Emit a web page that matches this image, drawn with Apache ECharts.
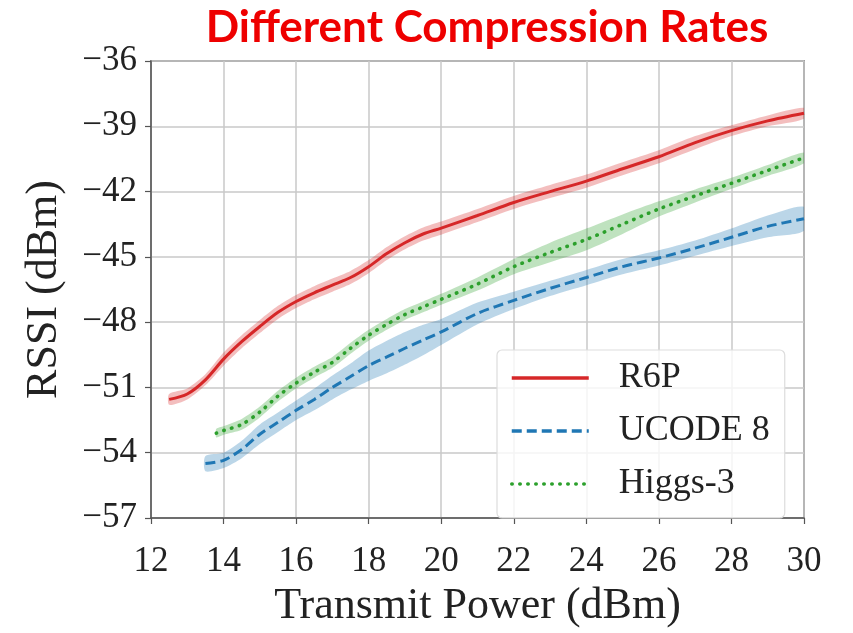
<!DOCTYPE html>
<html>
<head>
<meta charset="utf-8">
<script src="https://cdn.jsdelivr.net/npm/echarts@6/dist/echarts.min.js"></script>
<style>html,body{margin:0;padding:0;background:#fff}#c{width:853px;height:633px}</style>
</head>
<body>
<div id="c"></div>
<script>
// ---- data ----
const titleText = 'Different Compression Rates';
const xName = 'Transmit Power (dBm)';
const yName = 'RSSI (dBm)';
const seriesNames = ['R6P', 'UCODE 8', 'Higgs-3'];

const r6pX = [12.5, 13, 13.5, 14, 14.5, 15, 15.5, 16, 16.5, 17, 17.5, 18, 18.5, 19, 19.5, 20, 21, 22, 23, 24, 25, 26, 27, 28, 29, 30];
const r6pY = [-51.55, -51.3, -50.65, -49.7, -48.9, -48.2, -47.55, -47.05, -46.65, -46.3, -45.95, -45.45, -44.85, -44.35, -43.95, -43.68, -43.1, -42.5, -42.0, -41.52, -40.95, -40.4, -39.75, -39.2, -38.75, -38.4];
const r6pBand = [0.25, 0.25, 0.25, 0.3, 0.3, 0.3, 0.3, 0.3, 0.3, 0.3, 0.3, 0.3, 0.3, 0.3, 0.3, 0.3, 0.3, 0.3, 0.3, 0.3, 0.3, 0.3, 0.3, 0.25, 0.25, 0.25];

const ucodeX = [13.5, 14, 14.5, 15, 15.5, 16, 16.5, 17, 17.5, 18, 18.5, 19, 19.5, 20, 21, 22, 23, 24, 25, 26, 27, 28, 29, 30];
const ucodeY = [-54.5, -54.35, -53.85, -53.15, -52.6, -52.05, -51.55, -51.0, -50.5, -50.0, -49.6, -49.2, -48.82, -48.45, -47.6, -47.0, -46.45, -45.95, -45.45, -45.05, -44.6, -44.1, -43.6, -43.25];
const ucodeBand = [0.35, 0.35, 0.4, 0.45, 0.45, 0.45, 0.5, 0.55, 0.6, 0.7, 0.75, 0.75, 0.7, 0.6, 0.5, 0.4, 0.35, 0.35, 0.35, 0.35, 0.35, 0.4, 0.5, 0.55];

const higgsX = [13.8, 14, 14.5, 15, 15.5, 16, 16.5, 17, 17.5, 18, 18.5, 19, 19.5, 20, 21, 22, 23, 24, 25, 26, 27, 28, 29, 30];
const higgsY = [-53.1, -52.98, -52.7, -52.13, -51.4, -50.8, -50.3, -49.85, -49.2, -48.6, -48.1, -47.65, -47.3, -46.95, -46.25, -45.45, -44.8, -44.2, -43.5, -42.8, -42.2, -41.62, -41.03, -40.45];
const higgsBand = [0.2, 0.2, 0.25, 0.25, 0.25, 0.25, 0.25, 0.25, 0.25, 0.25, 0.25, 0.25, 0.25, 0.25, 0.3, 0.35, 0.45, 0.5, 0.45, 0.35, 0.3, 0.25, 0.25, 0.25];

const xTicks = [12, 14, 16, 18, 20, 22, 24, 26, 28, 30];
const yTicks = [-57, -54, -51, -48, -45, -42, -39, -36];

// ---- styles ----
const colors = ['#d62728', '#1f77b4', '#2ca02c'];
const serif = '"Liberation Serif", "DejaVu Serif", serif';

function pairs(xs, ys) { return xs.map((x, i) => [x, ys[i]]); }

function bandSeries(xs, ys, hw, color) {
  return {
    type: 'custom',
    coordinateSystem: 'cartesian2d',
    silent: true,
    z: 1,
    clip: true,
    data: [[xs[0], ys[0]]],
    renderItem: function (params, api) {
      const pts = [];
      for (let i = 0; i < xs.length; i++) pts.push(api.coord([xs[i], ys[i] + hw[i]]));
      for (let i = xs.length - 1; i >= 0; i--) pts.push(api.coord([xs[i], ys[i] - hw[i]]));
      return { type: 'polygon', shape: { points: pts, smooth: 0.25 }, style: { fill: color, opacity: 0.3 } };
    }
  };
}

const chart = echarts.init(document.getElementById('c'), null, { renderer: 'canvas' });
chart.setOption({
  backgroundColor: '#fff',
  animation: false,
  title: {
    text: titleText, left: 482, top: 1, textAlign: 'center',
    textStyle: { color: '#ee0000', fontSize: 44, fontWeight: 'bold', fontFamily: 'Lato, "Open Sans", sans-serif' }
  },
  grid: { left: 151, right: 49, top: 61, bottom: 96, show: true, borderColor: '#555', borderWidth: 1.5, backgroundColor: 'transparent' },
  xAxis: {
    type: 'value', min: 12, max: 30, interval: 2,
    name: xName, nameLocation: 'middle', nameGap: 66,
    nameTextStyle: { fontFamily: serif, fontSize: 44, color: '#222' },
    axisLine: { show: true, lineStyle: { color: '#555', width: 1.5 } },
    axisTick: { show: true, inside: false, length: 6, lineStyle: { color: '#555', width: 1.2 } },
    axisLabel: { fontFamily: serif, fontSize: 35, color: '#222', margin: 26, formatter: v => String(v) },
    splitLine: { show: true, lineStyle: { color: '#c8c8c8', width: 1.5 } }
  },
  yAxis: {
    type: 'value', min: -57, max: -36, interval: 3,
    name: yName, nameLocation: 'middle', nameGap: 85, nameRotate: 90,
    nameTextStyle: { fontFamily: serif, fontSize: 44, color: '#222' },
    axisLine: { show: true, lineStyle: { color: '#555', width: 1.5 } },
    axisTick: { show: true, inside: false, length: 6, lineStyle: { color: '#555', width: 1.2 } },
    axisLabel: { fontFamily: serif, fontSize: 35, color: '#222', margin: 14, formatter: v => (v < 0 ? '\u2212' + Math.abs(v) : String(v)) },
    splitLine: { show: true, lineStyle: { color: '#c8c8c8', width: 1.5 } }
  },
  legend: {
    data: seriesNames,
    orient: 'vertical', left: 497, top: 350,
    padding: [8, 15, 14, 13],
    itemWidth: 77, itemHeight: 14, itemGap: 13,
    itemStyle: { opacity: 0 },
    lineStyle: { width: 3.5 },
    backgroundColor: 'rgba(255,255,255,0.8)',
    borderColor: '#ddd', borderWidth: 1.2, borderRadius: 5,
    textStyle: { fontFamily: serif, fontSize: 36, color: '#222', lineHeight: 40, padding: [0, 0, 0, 25] }
  },
  series: [
    bandSeries(r6pX, r6pY, r6pBand, colors[0]),
    bandSeries(ucodeX, ucodeY, ucodeBand, colors[1]),
    bandSeries(higgsX, higgsY, higgsBand, colors[2]),
    { name: seriesNames[0], type: 'line', data: pairs(r6pX, r6pY), smooth: 0.3, symbol: 'none', z: 3,
      itemStyle: { color: colors[0] }, lineStyle: { color: colors[0], width: 3, type: 'solid' } },
    { name: seriesNames[1], type: 'line', data: pairs(ucodeX, ucodeY), smooth: 0.3, symbol: 'none', z: 3,
      itemStyle: { color: colors[1] }, lineStyle: { color: colors[1], width: 3, type: [10, 5] } },
    { name: seriesNames[2], type: 'line', data: pairs(higgsX, higgsY), smooth: 0.3, symbol: 'none', z: 3,
      itemStyle: { color: colors[2] }, lineStyle: { color: colors[2], width: 3.6, type: [0.5, 7.5], cap: 'round' } }
  ]
});
</script>
</body>
</html>
